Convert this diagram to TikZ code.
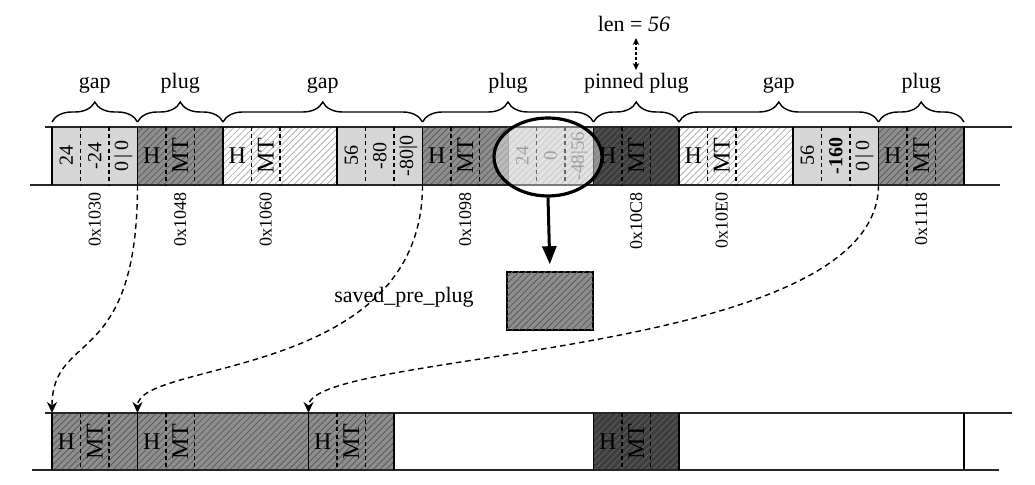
\documentclass[tikz,border=0pt]{standalone}
\usepackage{fontspec}
\setmainfont{Liberation Serif}
\usetikzlibrary{patterns.meta,decorations.pathreplacing,arrows.meta,shapes.geometric}
\definecolor{hdrc}{HTML}{D6D6D6}
\definecolor{plgc}{HTML}{8E8E8E}
\definecolor{plgh}{HTML}{5A5A5A}
\definecolor{pinc}{HTML}{3E3E3E}
\definecolor{pinh}{HTML}{5E5E5E}
\definecolor{frh}{HTML}{B0B0B0}
\definecolor{circ}{HTML}{CFCFCF}
\definecolor{cirh}{HTML}{A6A6A6}
\definecolor{cirt}{HTML}{606060}
\newcommand\blkfill[5]{\path[#5] ({52+28.5*#1},#3) rectangle ({52+28.5*#2},#4);}
\begin{document}
\begin{tikzpicture}[x=0.5pt,y=-0.5pt,
  hatch/.style={pattern={Lines[angle=45,distance=2.3pt,line width=0.4pt]}},
  hdrf/.style={fill=hdrc},
  plugf/.style={fill=plgc, postaction={hatch, pattern color=plgh}},
  pinf/.style={fill=pinc, postaction={hatch, pattern color=pinh}},
  freef/.style={fill=white, postaction={hatch, pattern color=frh}},
  cirf/.style={fill=circ, postaction={hatch, pattern color=cirh}},
  bandline/.style={line width=0.75pt, draw=black!85},
  bord/.style={line width=0.8pt, draw=black},
  divline/.style={line width=0.6pt, draw=black, dash pattern=on 2pt off 1.6pt},
  htxt/.style={font=\fontsize{12}{12}\selectfont, inner sep=0pt},
  mttxt/.style={font=\fontsize{12}{12}\selectfont, inner sep=0pt, rotate=90},
  num/.style={font=\fontsize{10}{10}\selectfont, inner sep=0pt, rotate=90},
  cnum/.style={font=\fontsize{9.5}{9.5}\selectfont, inner sep=0pt, rotate=90, text=cirt},
  addr/.style={font=\fontsize{9}{9}\selectfont, inner sep=0pt, rotate=90, anchor=east},
  lbl/.style={font=\fontsize{11}{11}\selectfont, inner sep=0pt, anchor=base},
  bracestyle/.style={line width=0.7pt, decorate, decoration={brace, amplitude=10pt, aspect=0.5}},
  conn/.style={line width=0.7pt, dash pattern=on 2.8pt off 2pt, -{Stealth[length=5.5pt,width=5pt]}},
]
\useasboundingbox (0,0) rectangle (1035,485);

% ---------- top band fills ----------
\blkfill{0}{3}{127}{185}{hdrf}
\blkfill{3}{6}{127}{185}{plugf}
\blkfill{6}{10}{127}{185}{freef}
\blkfill{10}{13}{127}{185}{hdrf}
\blkfill{13}{16}{127}{185}{plugf}
\blkfill{16}{19}{127}{185}{cirf}
\blkfill{19}{22}{127}{185}{pinf}
\blkfill{22}{26}{127}{185}{freef}
\blkfill{26}{29}{127}{185}{hdrf}
\blkfill{29}{32}{127}{185}{plugf}

% ---------- bottom band fills ----------
\blkfill{0}{3}{413}{470}{plugf}
\blkfill{3}{9}{413}{470}{plugf}
\blkfill{9}{12}{413}{470}{plugf}
\blkfill{19}{22}{413}{470}{pinf}

% ---------- band lines ----------
\draw[bandline] (45,127) -- (1012,127);
\draw[bandline] (30,185) -- (1000,185);
\draw[bandline] (45,413) -- (1012,413);
\draw[bandline] (32,470) -- (999,470);

% ---------- dividers ----------
\foreach \i in {1,2,4,5,7,8,11,12,14,15,17,18,20,21,23,24,27,28,30,31}
  \draw[divline] ({52+28.5*\i},127) -- ({52+28.5*\i},185);
\foreach \i in {0,3,6,10,13,19,22,26,29,32}
  \draw[bord] ({52+28.5*\i},127) -- ({52+28.5*\i},185);
\draw[line width=0.5pt, draw=black!55] ({52+28.5*16},127) -- ({52+28.5*16},185);
\foreach \i in {1,2,4,5,10,11,20,21}
  \draw[divline] ({52+28.5*\i},413) -- ({52+28.5*\i},470);
\foreach \i in {0,3,9,12,19,22,32}
  \draw[bord] ({52+28.5*\i},413) -- ({52+28.5*\i},470);

% ---------- H / MT labels ----------
\foreach \i/\n in {3/a,6/b,13/c,19/d,22/e,29/f} {
  \node[htxt] (H\n) at ({66.25+28.5*\i},156) {H};
  \node[mttxt] (MT\n) at ({66.25+28.5*(\i+1)},156) {MT};
}
\foreach \i/\n in {0/g,3/h,9/i,19/j} {
  \node[htxt] (H\n) at ({66.25+28.5*\i},441.5) {H};
  \node[mttxt] (MT\n) at ({66.25+28.5*(\i+1)},441.5) {MT};
}

% ---------- header numbers ----------
\node[num] (n1) at ({66.25+28.5*0},156) {24};
\node[num] (n2) at ({66.25+28.5*1},156) {-24};
\node[num] (n3) at ({66.25+28.5*2},156) {0\,|\,0};
\node[num] (n4) at ({66.25+28.5*10},156) {56};
\node[num] (n5) at ({66.25+28.5*11},156) {-80};
\node[num] (n6) at ({66.25+28.5*12},156) {-80|0};
\node[cnum] (n7) at ({66.25+28.5*16},156) {24};
\node[cnum] (n8) at ({66.25+28.5*17},156) {0};
\node[cnum] (n9) at ({66.25+28.5*18},156) {-48|56};
\node[num] (n10) at ({66.25+28.5*26},156) {56};
\node[num] (n11) at ({66.25+28.5*27},156) {\textbf{-160}};
\node[num] (n12) at ({66.25+28.5*28},156) {0\,|\,0};

% ---------- addresses ----------
\node[addr] (a1) at ({66.25+28.5*1},192) {0x1030};
\node[addr] (a2) at ({66.25+28.5*4},192) {0x1048};
\node[addr] (a3) at ({66.25+28.5*7},192) {0x1060};
\node[addr] (a4) at ({66.25+28.5*14},192) {0x1098};
\node[addr] (a5) at ({66.25+28.5*20},192) {0x10C8};
\node[addr] (a6) at ({66.25+28.5*23},192) {0x10E0};
\node[addr] (a7) at ({66.25+28.5*30},192) {0x1118};

% ---------- braces ----------
\draw[bracestyle] (52,122) -- ({52+28.5*3},122);
\draw[bracestyle] ({52+28.5*3},122) -- ({52+28.5*6},122);
\draw[bracestyle] ({52+28.5*6},122) -- ({52+28.5*13},122);
\draw[bracestyle] ({52+28.5*13},122) -- ({52+28.5*19},122);
\draw[bracestyle] ({52+28.5*19},122) -- ({52+28.5*22},122);
\draw[bracestyle] ({52+28.5*22},122) -- ({52+28.5*29},122);
\draw[bracestyle] ({52+28.5*29},122) -- ({52+28.5*32},122);
\node[lbl] (b1) at ({52+28.5*1.5},89) {gap};
\node[lbl] (b2) at ({52+28.5*4.5},89) {plug};
\node[lbl] (b3) at ({52+28.5*9.5},89) {gap};
\node[lbl] (b4) at ({52+28.5*16},89) {plug};
\node[lbl] (b5) at ({52+28.5*20.5},89) {pinned plug};
\node[lbl] (b6) at ({52+28.5*25.5},89) {gap};
\node[lbl] (b7) at ({52+28.5*30.5},89) {plug};

% ---------- len = 56 ----------
\node[lbl] (len) at (634,32) {len = \textit{56}};
\coordinate (la) at (636,38);
\coordinate (lb) at (636,70);
\draw[line width=0.6pt, dash pattern=on 1.5pt off 1pt, {Stealth[length=3.5pt,width=3.2pt]}-{Stealth[length=3.5pt,width=3.2pt]}] (la) -- (lb);

% ---------- ellipse and saved_pre_plug ----------
\node[ellipse, draw=black, line width=1.6pt, fill=white, fill opacity=0.4,
      minimum width=54pt, minimum height=39pt, inner sep=0pt] (zoomell) at (548,157) {};
\node[draw=black, line width=0.8pt, plugf, minimum width=43pt, minimum height=29pt, inner sep=0pt] (saved) at (550,301) {};
\node[font=\fontsize{11}{11}\selectfont, inner sep=0pt] (savedlbl) at (404,297) {saved\_pre\_plug};
\draw[line width=1.5pt, -{Triangle[length=9pt,width=7pt]}, shorten >=3.5pt] (zoomell.south) -- (saved.north);

% ---------- connectors ----------
\coordinate (s1) at ({52+28.5*3},185);
\coordinate (e1) at (52,413);
\coordinate (s2) at ({52+28.5*13},185);
\coordinate (e2) at ({52+28.5*3},413);
\coordinate (s3) at ({52+28.5*29},185);
\coordinate (e3) at ({52+28.5*9},413);
\draw[conn] (s1) .. controls (137.5,370) and (52,330) .. (e1);
\draw[conn] (s2) .. controls (422.5,380) and (137.5,360) .. (e2);
\draw[conn] (s3) .. controls (878.5,360) and (308.5,350) .. (e3);
\end{tikzpicture}
\end{document}
